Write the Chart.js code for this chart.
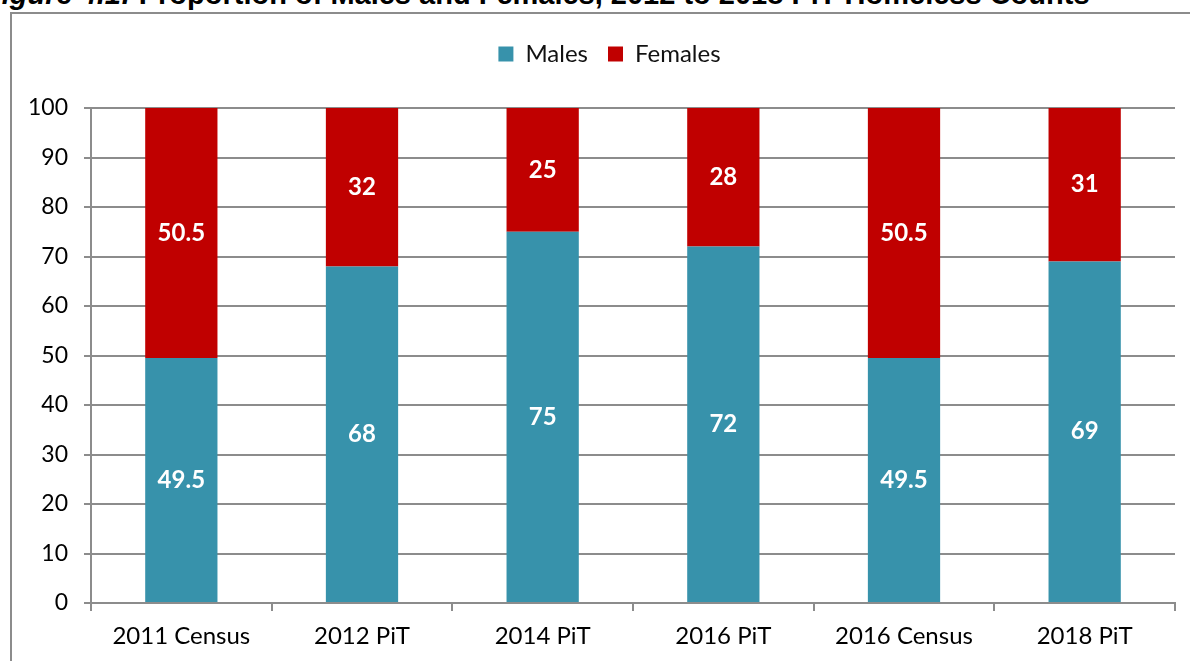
<!DOCTYPE html>
<html>
<head>
<meta charset="utf-8">
<script src="https://cdn.jsdelivr.net/npm/chart.js@4"></script>
<style>
  html, body { margin: 0; padding: 0; background: #fff; overflow: hidden; }
  #wrap { position: relative; width: 1190px; height: 661px; }
  #title {
    position: absolute; left: -16px; top: -20px; white-space: nowrap;
    font: bold 29px/29px "Liberation Sans Narrow", "Liberation Sans", sans-serif; color: #000;
  }
  #title i { font-style: italic; }
  #frame {
    position: absolute; left: 10px; top: 12px; width: 1200px; height: 700px;
    border-left: 2px solid #8c8c8c; border-top: 2px solid #8c8c8c;
  }
  canvas { position: absolute; left: 0; top: 0; }
</style>
</head>
<body>
<div id="wrap">
  <div id="title"><i>Figure 4.1:</i> Proportion of Males and Females, 2012 to 2018 PiT Homeless Counts</div>
  <div id="frame"></div>
  <canvas id="chart" width="1190" height="661"></canvas>
</div>
<script>
"use strict";

const categories = ["2011 Census", "2012 PiT", "2014 PiT", "2016 PiT", "2016 Census", "2018 PiT"];
const males = [49.5, 68, 75, 72, 49.5, 69];
const females = [50.5, 32, 25, 28, 50.5, 31];
const yTicks = [0, 10, 20, 30, 40, 50, 60, 70, 80, 90, 100];

const FONT = "Lato, 'Open Sans', sans-serif";

// white value labels in the middle of each bar piece
const barLabels = {
    id: "barLabels",
    afterDatasetsDraw(chart) {
        const ctx = chart.ctx;
        ctx.save();
        ctx.fillStyle = "#ffffff";
        ctx.font = "bold 24px " + FONT;
        ctx.textAlign = "center";
        ctx.textBaseline = "middle";
        chart.data.datasets.forEach((ds, i) => {
            chart.getDatasetMeta(i).data.forEach((bar, j) => {
                const p = bar.getCenterPoint();
                ctx.fillText(String(ds.data[j]), p.x, p.y);
            });
        });
        ctx.restore();
    }
};

// the legend in the original sits a bit right of the canvas centre
const legendShift = {
    id: "legendShift",
    afterLayout(chart) {
        chart.legend.left += 44;
        chart.legend.right += 0;
    }
};

new Chart(document.getElementById("chart"), {
    type: "bar",
    data: {
        labels: categories,
        datasets: [
            { label: "Males", data: males, backgroundColor: "#3792ab", categoryPercentage: 1, barPercentage: 0.4 },
            { label: "Females", data: females, backgroundColor: "#c00000", categoryPercentage: 1, barPercentage: 0.4 }
        ]
    },
    options: {
        responsive: false,
        animation: false,
        devicePixelRatio: 1,
        layout: { padding: { left: 0, right: 15, top: 22, bottom: 0 } },
        plugins: {
            tooltip: { enabled: false },
            legend: {
                position: "top",
                labels: {
                    boxWidth: 15,
                    boxHeight: 15,
                    padding: 20,
                    color: "#111",
                    font: { family: FONT, size: 24 }
                }
            }
        },
        scales: {
            x: {
                stacked: true,
                grid: { offset: true, drawOnChartArea: false, drawTicks: true, tickLength: 8, color: "#8c8c8c", lineWidth: 2 },
                border: { color: "#8c8c8c", width: 2 },
                ticks: { color: "#000", font: { family: FONT, size: 24 }, padding: 11 },
                afterFit(scale) { scale.height = 58; }
            },
            // empty spacer between legend and plot
            gap: {
                type: "category",
                position: "top",
                grid: { display: false },
                border: { display: false },
                ticks: { display: false },
                afterFit(scale) { scale.height = 32; }
            },
            y: {
                stacked: true,
                min: 0, max: 100,
                afterBuildTicks(scale) { scale.ticks = yTicks.map(v => ({ value: v })); },
                grid: { color: "#8c8c8c", lineWidth: 2, tickLength: 7 },
                border: { color: "#8c8c8c", width: 2 },
                ticks: { color: "#000", font: { family: FONT, size: 23 }, padding: 16 },
                afterFit(scale) { scale.width = 91; }
            }
        }
    },
    plugins: [barLabels, legendShift]
});
</script>
</body>
</html>
